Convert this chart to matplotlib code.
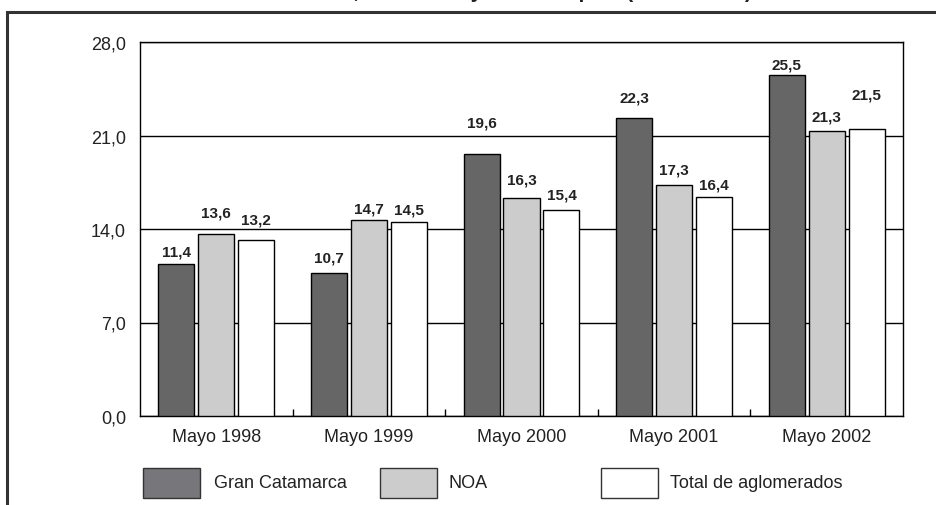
import matplotlib
matplotlib.use("Agg")
import matplotlib.pyplot as plt
from matplotlib.patches import Rectangle
import numpy as np

plt.rcParams['font.family'] = ['Liberation Sans', 'DejaVu Sans']

categories = ["Mayo 1998", "Mayo 1999", "Mayo 2000", "Mayo 2001", "Mayo 2002"]
series_names = ["Gran Catamarca", "NOA", "Total de aglomerados"]
gran_catamarca = [11.4, 10.7, 19.6, 22.3, 25.5]
noa = [13.6, 14.7, 16.3, 17.3, 21.3]
total_aglomerados = [13.2, 14.5, 15.4, 16.4, 21.5]
y_ticks = [0.0, 7.0, 14.0, 21.0, 28.0]
title_text = "Gran Catamarca, Total NOA y Total del país (1998 - 2002)"

series = [gran_catamarca, noa, total_aglomerados]
colors = ["#666666", "#cccccc", "#ffffff"]
legend_colors = ["#77777b", "#cccccc", "#ffffff"]
# label offsets (points) from bar top to label baseline, per series / category
label_offsets = [
    [6.0, 8.0, 20.0, 12.0, 5.3],
    [12.5, 5.5, 10.3, 8.0, 8.1],
    [11.5, 6.0, 8.4, 6.3, 22.0],
]

W, H = 936, 506
fig = plt.figure(figsize=(W / 100, H / 100), dpi=100)
ax = fig.add_axes([140 / W, 1 - 417 / H, (903 - 140) / W, (417 - 43) / H])

x = np.arange(len(categories))
step = 0.262
width = 0.236
for i, (vals, col) in enumerate(zip(series, colors)):
    pos = x + (i - 1) * step
    ax.bar(pos, vals, width=width, color=col, edgecolor="black", linewidth=1.0, zorder=3)
    for j, (px, v) in enumerate(zip(pos, vals)):
        ax.annotate(f"{v:.1f}".replace(".", ","), (px, v), xytext=(0, label_offsets[i][j]),
                    textcoords="offset points", ha="center", va="baseline",
                    fontsize=11, fontweight="bold", color="#222222")

ax.set_xlim(-0.5, len(categories) - 0.5)
ax.set_ylim(0, 28)
ax.set_yticks(y_ticks)
ax.set_yticklabels([f"{t:.1f}".replace(".", ",") for t in y_ticks])
ax.yaxis.grid(True, color="black", linewidth=1.0, zorder=0)
ax.set_axisbelow(True)
ax.tick_params(axis="y", length=0, pad=10, labelsize=13, labelcolor="#222222")
ax.set_xticks(x)
ax.set_xticklabels(categories)
ax.tick_params(axis="x", length=0, pad=9, labelsize=13, labelcolor="#222222")
ax.set_xticks(np.arange(0.5, len(categories) - 0.5, 1.0), minor=True)
ax.tick_params(axis="x", which="minor", direction="in", length=5, width=1, color="black")
for s in ax.spines.values():
    s.set_linewidth(1.0)
    s.set_color("black")

# legend
sw_x = [143, 380, 601]
txt_x = [214, 448, 670]
for k, name in enumerate(series_names):
    fig.patches.append(Rectangle((sw_x[k] / W, 1 - 499 / H), 57 / W, 30 / H,
                                 transform=fig.transFigure, facecolor=legend_colors[k],
                                 edgecolor="#333333", linewidth=1.0))
    fig.text(txt_x[k] / W, 1 - 488 / H, name, fontsize=13, va="baseline",
             ha="left", color="#222222")

# outer frame (cut off)
fig.patches.append(Rectangle((7 / W, -0.2), 1.2, (1 - 13 / H) + 0.2, transform=fig.transFigure,
                             facecolor="none", edgecolor="#333333", linewidth=2.2, clip_on=False))

# title (cut off at top)
fig.text(752 / W, 1 + 1.5 / H, title_text, ha="right", va="baseline",
         fontsize=15, fontweight="bold", color="#222222")

fig.savefig("out.png", dpi=100, facecolor="white")
